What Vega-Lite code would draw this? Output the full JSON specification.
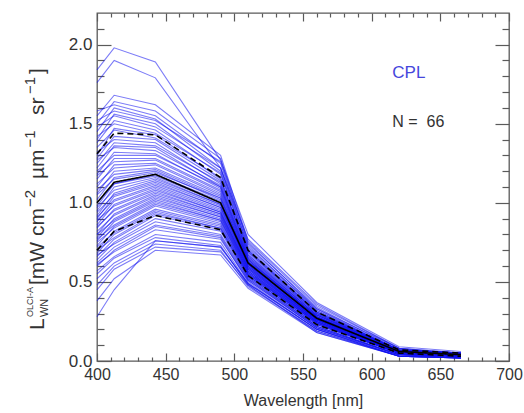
{
"$schema":"https://vega.github.io/schema/vega-lite/v6.json",
"width":412,"height":348,
"autosize":{"type":"none"},
"padding":{"left":97,"top":13,"right":15,"bottom":52},
"background":"white",
"config":{"view":{"stroke":"#5a5a5a","strokeWidth":1.3},"font":"Liberation Sans",
 "text":{"font":"Liberation Sans","color":"#333333","angle":270,"align":"left","baseline":"alphabetic","clip":false},
 "axis":{"grid":false,"domain":false,"tickColor":"#5a5a5a","tickWidth":1.2,"labelColor":"#333333","labelFont":"Liberation Sans","titleFont":"Liberation Sans","titleColor":"#333333","titleFontWeight":"normal","labelFlush":false,"labelOverlap":false}},
"resolve":{"axis":{"x":"independent","y":"independent"}},
"datasets":{
"spec":[
{"s":1,"w":400,"v":1.84},{"s":1,"w":412.5,"v":1.98},{"s":1,"w":442.5,"v":1.89},{"s":1,"w":490,"v":1.27},{"s":1,"w":510,"v":0.80},{"s":1,"w":560,"v":0.37},{"s":1,"w":620,"v":0.09},{"s":1,"w":665,"v":0.06},
{"s":2,"w":400,"v":1.76},{"s":2,"w":412.5,"v":1.90},{"s":2,"w":442.5,"v":1.79},{"s":2,"w":490,"v":1.22},{"s":2,"w":510,"v":0.77},{"s":2,"w":560,"v":0.36},{"s":2,"w":620,"v":0.08},{"s":2,"w":665,"v":0.05},
{"s":3,"w":400,"v":1.55},{"s":3,"w":412.5,"v":1.68},{"s":3,"w":442.5,"v":1.62},{"s":3,"w":490,"v":1.30},{"s":3,"w":510,"v":0.76},{"s":3,"w":560,"v":0.35},{"s":3,"w":620,"v":0.08},{"s":3,"w":665,"v":0.05},
{"s":4,"w":400,"v":1.50},{"s":4,"w":412.5,"v":1.64},{"s":4,"w":442.5,"v":1.58},{"s":4,"w":490,"v":1.28},{"s":4,"w":510,"v":0.74},{"s":4,"w":560,"v":0.34},{"s":4,"w":620,"v":0.07},{"s":4,"w":665,"v":0.05},
{"s":5,"w":400,"v":1.58},{"s":5,"w":412.5,"v":1.62},{"s":5,"w":442.5,"v":1.55},{"s":5,"w":490,"v":1.25},{"s":5,"w":510,"v":0.72},{"s":5,"w":560,"v":0.33},{"s":5,"w":620,"v":0.08},{"s":5,"w":665,"v":0.04},
{"s":6,"w":400,"v":1.45},{"s":6,"w":412.5,"v":1.60},{"s":6,"w":442.5,"v":1.53},{"s":6,"w":490,"v":1.22},{"s":6,"w":510,"v":0.73},{"s":6,"w":560,"v":0.32},{"s":6,"w":620,"v":0.07},{"s":6,"w":665,"v":0.05},
{"s":7,"w":400,"v":1.52},{"s":7,"w":412.5,"v":1.58},{"s":7,"w":442.5,"v":1.52},{"s":7,"w":490,"v":1.26},{"s":7,"w":510,"v":0.75},{"s":7,"w":560,"v":0.33},{"s":7,"w":620,"v":0.06},{"s":7,"w":665,"v":0.04},
{"s":8,"w":400,"v":1.40},{"s":8,"w":412.5,"v":1.56},{"s":8,"w":442.5,"v":1.50},{"s":8,"w":490,"v":1.20},{"s":8,"w":510,"v":0.70},{"s":8,"w":560,"v":0.31},{"s":8,"w":620,"v":0.07},{"s":8,"w":665,"v":0.04},
{"s":9,"w":400,"v":1.48},{"s":9,"w":412.5,"v":1.55},{"s":9,"w":442.5,"v":1.48},{"s":9,"w":490,"v":1.22},{"s":9,"w":510,"v":0.71},{"s":9,"w":560,"v":0.32},{"s":9,"w":620,"v":0.06},{"s":9,"w":665,"v":0.04},
{"s":10,"w":400,"v":1.38},{"s":10,"w":412.5,"v":1.52},{"s":10,"w":442.5,"v":1.46},{"s":10,"w":490,"v":1.18},{"s":10,"w":510,"v":0.69},{"s":10,"w":560,"v":0.30},{"s":10,"w":620,"v":0.07},{"s":10,"w":665,"v":0.05},
{"s":11,"w":400,"v":1.42},{"s":11,"w":412.5,"v":1.50},{"s":11,"w":442.5,"v":1.44},{"s":11,"w":490,"v":1.19},{"s":11,"w":510,"v":0.70},{"s":11,"w":560,"v":0.31},{"s":11,"w":620,"v":0.06},{"s":11,"w":665,"v":0.04},
{"s":12,"w":400,"v":1.30},{"s":12,"w":412.5,"v":1.47},{"s":12,"w":442.5,"v":1.43},{"s":12,"w":490,"v":1.15},{"s":12,"w":510,"v":0.68},{"s":12,"w":560,"v":0.30},{"s":12,"w":620,"v":0.06},{"s":12,"w":665,"v":0.04},
{"s":13,"w":400,"v":1.35},{"s":13,"w":412.5,"v":1.46},{"s":13,"w":442.5,"v":1.41},{"s":13,"w":490,"v":1.16},{"s":13,"w":510,"v":0.67},{"s":13,"w":560,"v":0.29},{"s":13,"w":620,"v":0.07},{"s":13,"w":665,"v":0.04},
{"s":14,"w":400,"v":1.28},{"s":14,"w":412.5,"v":1.42},{"s":14,"w":442.5,"v":1.40},{"s":14,"w":490,"v":1.14},{"s":14,"w":510,"v":0.69},{"s":14,"w":560,"v":0.31},{"s":14,"w":620,"v":0.07},{"s":14,"w":665,"v":0.05},
{"s":15,"w":400,"v":1.32},{"s":15,"w":412.5,"v":1.40},{"s":15,"w":442.5,"v":1.38},{"s":15,"w":490,"v":1.12},{"s":15,"w":510,"v":0.66},{"s":15,"w":560,"v":0.29},{"s":15,"w":620,"v":0.06},{"s":15,"w":665,"v":0.04},
{"s":16,"w":400,"v":1.25},{"s":16,"w":412.5,"v":1.38},{"s":16,"w":442.5,"v":1.36},{"s":16,"w":490,"v":1.13},{"s":16,"w":510,"v":0.67},{"s":16,"w":560,"v":0.30},{"s":16,"w":620,"v":0.06},{"s":16,"w":665,"v":0.04},
{"s":17,"w":400,"v":1.22},{"s":17,"w":412.5,"v":1.36},{"s":17,"w":442.5,"v":1.35},{"s":17,"w":490,"v":1.10},{"s":17,"w":510,"v":0.65},{"s":17,"w":560,"v":0.28},{"s":17,"w":620,"v":0.05},{"s":17,"w":665,"v":0.03},
{"s":18,"w":400,"v":1.27},{"s":18,"w":412.5,"v":1.35},{"s":18,"w":442.5,"v":1.33},{"s":18,"w":490,"v":1.11},{"s":18,"w":510,"v":0.66},{"s":18,"w":560,"v":0.29},{"s":18,"w":620,"v":0.06},{"s":18,"w":665,"v":0.04},
{"s":19,"w":400,"v":1.18},{"s":19,"w":412.5,"v":1.32},{"s":19,"w":442.5,"v":1.31},{"s":19,"w":490,"v":1.09},{"s":19,"w":510,"v":0.64},{"s":19,"w":560,"v":0.28},{"s":19,"w":620,"v":0.06},{"s":19,"w":665,"v":0.04},
{"s":20,"w":400,"v":1.20},{"s":20,"w":412.5,"v":1.30},{"s":20,"w":442.5,"v":1.30},{"s":20,"w":490,"v":1.10},{"s":20,"w":510,"v":0.65},{"s":20,"w":560,"v":0.29},{"s":20,"w":620,"v":0.07},{"s":20,"w":665,"v":0.05},
{"s":21,"w":400,"v":1.15},{"s":21,"w":412.5,"v":1.28},{"s":21,"w":442.5,"v":1.28},{"s":21,"w":490,"v":1.08},{"s":21,"w":510,"v":0.64},{"s":21,"w":560,"v":0.28},{"s":21,"w":620,"v":0.06},{"s":21,"w":665,"v":0.04},
{"s":22,"w":400,"v":1.17},{"s":22,"w":412.5,"v":1.26},{"s":22,"w":442.5,"v":1.27},{"s":22,"w":490,"v":1.07},{"s":22,"w":510,"v":0.63},{"s":22,"w":560,"v":0.27},{"s":22,"w":620,"v":0.05},{"s":22,"w":665,"v":0.03},
{"s":23,"w":400,"v":1.10},{"s":23,"w":412.5,"v":1.24},{"s":23,"w":442.5,"v":1.25},{"s":23,"w":490,"v":1.06},{"s":23,"w":510,"v":0.64},{"s":23,"w":560,"v":0.28},{"s":23,"w":620,"v":0.06},{"s":23,"w":665,"v":0.04},
{"s":24,"w":400,"v":1.12},{"s":24,"w":412.5,"v":1.22},{"s":24,"w":442.5,"v":1.24},{"s":24,"w":490,"v":1.05},{"s":24,"w":510,"v":0.62},{"s":24,"w":560,"v":0.27},{"s":24,"w":620,"v":0.06},{"s":24,"w":665,"v":0.04},
{"s":25,"w":400,"v":1.06},{"s":25,"w":412.5,"v":1.20},{"s":25,"w":442.5,"v":1.22},{"s":25,"w":490,"v":1.04},{"s":25,"w":510,"v":0.63},{"s":25,"w":560,"v":0.28},{"s":25,"w":620,"v":0.07},{"s":25,"w":665,"v":0.04},
{"s":26,"w":400,"v":1.08},{"s":26,"w":412.5,"v":1.18},{"s":26,"w":442.5,"v":1.21},{"s":26,"w":490,"v":1.03},{"s":26,"w":510,"v":0.61},{"s":26,"w":560,"v":0.26},{"s":26,"w":620,"v":0.05},{"s":26,"w":665,"v":0.03},
{"s":27,"w":400,"v":1.02},{"s":27,"w":412.5,"v":1.16},{"s":27,"w":442.5,"v":1.20},{"s":27,"w":490,"v":1.02},{"s":27,"w":510,"v":0.62},{"s":27,"w":560,"v":0.27},{"s":27,"w":620,"v":0.06},{"s":27,"w":665,"v":0.04},
{"s":28,"w":400,"v":1.05},{"s":28,"w":412.5,"v":1.15},{"s":28,"w":442.5,"v":1.19},{"s":28,"w":490,"v":1.03},{"s":28,"w":510,"v":0.63},{"s":28,"w":560,"v":0.28},{"s":28,"w":620,"v":0.06},{"s":28,"w":665,"v":0.04},
{"s":29,"w":400,"v":0.98},{"s":29,"w":412.5,"v":1.12},{"s":29,"w":442.5,"v":1.18},{"s":29,"w":490,"v":1.01},{"s":29,"w":510,"v":0.61},{"s":29,"w":560,"v":0.27},{"s":29,"w":620,"v":0.06},{"s":29,"w":665,"v":0.04},
{"s":30,"w":400,"v":1.00},{"s":30,"w":412.5,"v":1.12},{"s":30,"w":442.5,"v":1.17},{"s":30,"w":490,"v":1.00},{"s":30,"w":510,"v":0.60},{"s":30,"w":560,"v":0.26},{"s":30,"w":620,"v":0.05},{"s":30,"w":665,"v":0.03},
{"s":31,"w":400,"v":0.95},{"s":31,"w":412.5,"v":1.10},{"s":31,"w":442.5,"v":1.16},{"s":31,"w":490,"v":0.99},{"s":31,"w":510,"v":0.61},{"s":31,"w":560,"v":0.27},{"s":31,"w":620,"v":0.06},{"s":31,"w":665,"v":0.04},
{"s":32,"w":400,"v":0.97},{"s":32,"w":412.5,"v":1.08},{"s":32,"w":442.5,"v":1.15},{"s":32,"w":490,"v":0.99},{"s":32,"w":510,"v":0.60},{"s":32,"w":560,"v":0.26},{"s":32,"w":620,"v":0.06},{"s":32,"w":665,"v":0.04},
{"s":33,"w":400,"v":0.92},{"s":33,"w":412.5,"v":1.06},{"s":33,"w":442.5,"v":1.14},{"s":33,"w":490,"v":0.98},{"s":33,"w":510,"v":0.61},{"s":33,"w":560,"v":0.27},{"s":33,"w":620,"v":0.07},{"s":33,"w":665,"v":0.05},
{"s":34,"w":400,"v":0.94},{"s":34,"w":412.5,"v":1.05},{"s":34,"w":442.5,"v":1.13},{"s":34,"w":490,"v":0.97},{"s":34,"w":510,"v":0.59},{"s":34,"w":560,"v":0.26},{"s":34,"w":620,"v":0.05},{"s":34,"w":665,"v":0.03},
{"s":35,"w":400,"v":0.90},{"s":35,"w":412.5,"v":1.04},{"s":35,"w":442.5,"v":1.12},{"s":35,"w":490,"v":0.97},{"s":35,"w":510,"v":0.60},{"s":35,"w":560,"v":0.26},{"s":35,"w":620,"v":0.06},{"s":35,"w":665,"v":0.04},
{"s":36,"w":400,"v":0.91},{"s":36,"w":412.5,"v":1.02},{"s":36,"w":442.5,"v":1.11},{"s":36,"w":490,"v":0.96},{"s":36,"w":510,"v":0.59},{"s":36,"w":560,"v":0.25},{"s":36,"w":620,"v":0.05},{"s":36,"w":665,"v":0.03},
{"s":37,"w":400,"v":0.88},{"s":37,"w":412.5,"v":1.01},{"s":37,"w":442.5,"v":1.10},{"s":37,"w":490,"v":0.95},{"s":37,"w":510,"v":0.58},{"s":37,"w":560,"v":0.26},{"s":37,"w":620,"v":0.06},{"s":37,"w":665,"v":0.04},
{"s":38,"w":400,"v":0.86},{"s":38,"w":412.5,"v":0.99},{"s":38,"w":442.5,"v":1.09},{"s":38,"w":490,"v":0.94},{"s":38,"w":510,"v":0.59},{"s":38,"w":560,"v":0.26},{"s":38,"w":620,"v":0.06},{"s":38,"w":665,"v":0.04},
{"s":39,"w":400,"v":0.89},{"s":39,"w":412.5,"v":0.98},{"s":39,"w":442.5,"v":1.08},{"s":39,"w":490,"v":0.94},{"s":39,"w":510,"v":0.58},{"s":39,"w":560,"v":0.25},{"s":39,"w":620,"v":0.05},{"s":39,"w":665,"v":0.03},
{"s":40,"w":400,"v":0.84},{"s":40,"w":412.5,"v":0.96},{"s":40,"w":442.5,"v":1.07},{"s":40,"w":490,"v":0.93},{"s":40,"w":510,"v":0.57},{"s":40,"w":560,"v":0.25},{"s":40,"w":620,"v":0.06},{"s":40,"w":665,"v":0.04},
{"s":41,"w":400,"v":0.85},{"s":41,"w":412.5,"v":0.95},{"s":41,"w":442.5,"v":1.06},{"s":41,"w":490,"v":0.93},{"s":41,"w":510,"v":0.58},{"s":41,"w":560,"v":0.26},{"s":41,"w":620,"v":0.06},{"s":41,"w":665,"v":0.04},
{"s":42,"w":400,"v":0.80},{"s":42,"w":412.5,"v":0.93},{"s":42,"w":442.5,"v":1.05},{"s":42,"w":490,"v":0.92},{"s":42,"w":510,"v":0.57},{"s":42,"w":560,"v":0.25},{"s":42,"w":620,"v":0.05},{"s":42,"w":665,"v":0.03},
{"s":43,"w":400,"v":0.82},{"s":43,"w":412.5,"v":0.92},{"s":43,"w":442.5,"v":1.04},{"s":43,"w":490,"v":0.91},{"s":43,"w":510,"v":0.56},{"s":43,"w":560,"v":0.24},{"s":43,"w":620,"v":0.05},{"s":43,"w":665,"v":0.03},
{"s":44,"w":400,"v":0.78},{"s":44,"w":412.5,"v":0.90},{"s":44,"w":442.5,"v":1.03},{"s":44,"w":490,"v":0.91},{"s":44,"w":510,"v":0.57},{"s":44,"w":560,"v":0.25},{"s":44,"w":620,"v":0.06},{"s":44,"w":665,"v":0.04},
{"s":45,"w":400,"v":0.80},{"s":45,"w":412.5,"v":0.89},{"s":45,"w":442.5,"v":1.02},{"s":45,"w":490,"v":0.90},{"s":45,"w":510,"v":0.56},{"s":45,"w":560,"v":0.24},{"s":45,"w":620,"v":0.05},{"s":45,"w":665,"v":0.03},
{"s":46,"w":400,"v":0.76},{"s":46,"w":412.5,"v":0.88},{"s":46,"w":442.5,"v":1.01},{"s":46,"w":490,"v":0.89},{"s":46,"w":510,"v":0.55},{"s":46,"w":560,"v":0.24},{"s":46,"w":620,"v":0.05},{"s":46,"w":665,"v":0.03},
{"s":47,"w":400,"v":0.77},{"s":47,"w":412.5,"v":0.86},{"s":47,"w":442.5,"v":1.00},{"s":47,"w":490,"v":0.89},{"s":47,"w":510,"v":0.56},{"s":47,"w":560,"v":0.25},{"s":47,"w":620,"v":0.06},{"s":47,"w":665,"v":0.04},
{"s":48,"w":400,"v":0.73},{"s":48,"w":412.5,"v":0.85},{"s":48,"w":442.5,"v":0.99},{"s":48,"w":490,"v":0.88},{"s":48,"w":510,"v":0.55},{"s":48,"w":560,"v":0.24},{"s":48,"w":620,"v":0.05},{"s":48,"w":665,"v":0.03},
{"s":49,"w":400,"v":0.75},{"s":49,"w":412.5,"v":0.84},{"s":49,"w":442.5,"v":0.98},{"s":49,"w":490,"v":0.87},{"s":49,"w":510,"v":0.54},{"s":49,"w":560,"v":0.23},{"s":49,"w":620,"v":0.05},{"s":49,"w":665,"v":0.03},
{"s":50,"w":400,"v":0.70},{"s":50,"w":412.5,"v":0.82},{"s":50,"w":442.5,"v":0.96},{"s":50,"w":490,"v":0.86},{"s":50,"w":510,"v":0.55},{"s":50,"w":560,"v":0.24},{"s":50,"w":620,"v":0.05},{"s":50,"w":665,"v":0.04},
{"s":51,"w":400,"v":0.72},{"s":51,"w":412.5,"v":0.81},{"s":51,"w":442.5,"v":0.95},{"s":51,"w":490,"v":0.85},{"s":51,"w":510,"v":0.54},{"s":51,"w":560,"v":0.23},{"s":51,"w":620,"v":0.05},{"s":51,"w":665,"v":0.03},
{"s":52,"w":400,"v":0.68},{"s":52,"w":412.5,"v":0.80},{"s":52,"w":442.5,"v":0.94},{"s":52,"w":490,"v":0.84},{"s":52,"w":510,"v":0.53},{"s":52,"w":560,"v":0.22},{"s":52,"w":620,"v":0.04},{"s":52,"w":665,"v":0.03},
{"s":53,"w":400,"v":0.70},{"s":53,"w":412.5,"v":0.78},{"s":53,"w":442.5,"v":0.93},{"s":53,"w":490,"v":0.84},{"s":53,"w":510,"v":0.54},{"s":53,"w":560,"v":0.23},{"s":53,"w":620,"v":0.05},{"s":53,"w":665,"v":0.03},
{"s":54,"w":400,"v":0.66},{"s":54,"w":412.5,"v":0.77},{"s":54,"w":442.5,"v":0.92},{"s":54,"w":490,"v":0.83},{"s":54,"w":510,"v":0.53},{"s":54,"w":560,"v":0.22},{"s":54,"w":620,"v":0.04},{"s":54,"w":665,"v":0.03},
{"s":55,"w":400,"v":0.64},{"s":55,"w":412.5,"v":0.75},{"s":55,"w":442.5,"v":0.90},{"s":55,"w":490,"v":0.82},{"s":55,"w":510,"v":0.52},{"s":55,"w":560,"v":0.22},{"s":55,"w":620,"v":0.04},{"s":55,"w":665,"v":0.03},
{"s":56,"w":400,"v":0.67},{"s":56,"w":412.5,"v":0.74},{"s":56,"w":442.5,"v":0.88},{"s":56,"w":490,"v":0.80},{"s":56,"w":510,"v":0.52},{"s":56,"w":560,"v":0.21},{"s":56,"w":620,"v":0.04},{"s":56,"w":665,"v":0.03},
{"s":57,"w":400,"v":0.62},{"s":57,"w":412.5,"v":0.72},{"s":57,"w":442.5,"v":0.86},{"s":57,"w":490,"v":0.79},{"s":57,"w":510,"v":0.51},{"s":57,"w":560,"v":0.21},{"s":57,"w":620,"v":0.04},{"s":57,"w":665,"v":0.02},
{"s":58,"w":400,"v":0.60},{"s":58,"w":412.5,"v":0.70},{"s":58,"w":442.5,"v":0.85},{"s":58,"w":490,"v":0.78},{"s":58,"w":510,"v":0.50},{"s":58,"w":560,"v":0.20},{"s":58,"w":620,"v":0.03},{"s":58,"w":665,"v":0.02},
{"s":59,"w":400,"v":0.61},{"s":59,"w":412.5,"v":0.69},{"s":59,"w":442.5,"v":0.83},{"s":59,"w":490,"v":0.77},{"s":59,"w":510,"v":0.51},{"s":59,"w":560,"v":0.21},{"s":59,"w":620,"v":0.04},{"s":59,"w":665,"v":0.03},
{"s":60,"w":400,"v":0.57},{"s":60,"w":412.5,"v":0.66},{"s":60,"w":442.5,"v":0.80},{"s":60,"w":490,"v":0.75},{"s":60,"w":510,"v":0.49},{"s":60,"w":560,"v":0.20},{"s":60,"w":620,"v":0.03},{"s":60,"w":665,"v":0.02},
{"s":61,"w":400,"v":0.55},{"s":61,"w":412.5,"v":0.65},{"s":61,"w":442.5,"v":0.78},{"s":61,"w":490,"v":0.73},{"s":61,"w":510,"v":0.48},{"s":61,"w":560,"v":0.19},{"s":61,"w":620,"v":0.03},{"s":61,"w":665,"v":0.02},
{"s":62,"w":400,"v":0.52},{"s":62,"w":412.5,"v":0.62},{"s":62,"w":442.5,"v":0.76},{"s":62,"w":490,"v":0.72},{"s":62,"w":510,"v":0.49},{"s":62,"w":560,"v":0.20},{"s":62,"w":620,"v":0.04},{"s":62,"w":665,"v":0.02},
{"s":63,"w":400,"v":0.48},{"s":63,"w":412.5,"v":0.60},{"s":63,"w":442.5,"v":0.74},{"s":63,"w":490,"v":0.70},{"s":63,"w":510,"v":0.47},{"s":63,"w":560,"v":0.19},{"s":63,"w":620,"v":0.03},{"s":63,"w":665,"v":0.02},
{"s":64,"w":400,"v":0.45},{"s":64,"w":412.5,"v":0.58},{"s":64,"w":442.5,"v":0.72},{"s":64,"w":490,"v":0.69},{"s":64,"w":510,"v":0.48},{"s":64,"w":560,"v":0.18},{"s":64,"w":620,"v":0.03},{"s":64,"w":665,"v":0.02},
{"s":65,"w":400,"v":0.38},{"s":65,"w":412.5,"v":0.52},{"s":65,"w":442.5,"v":0.70},{"s":65,"w":490,"v":0.67},{"s":65,"w":510,"v":0.46},{"s":65,"w":560,"v":0.18},{"s":65,"w":620,"v":0.03},{"s":65,"w":665,"v":0.02},
{"s":66,"w":400,"v":0.28},{"s":66,"w":412.5,"v":0.45},{"s":66,"w":442.5,"v":0.76},{"s":66,"w":490,"v":0.72},{"s":66,"w":510,"v":0.49},{"s":66,"w":560,"v":0.20},{"s":66,"w":620,"v":0.03},{"s":66,"w":665,"v":0.02}
],
"stats":[
{"k":"mean","w":400,"v":1.00},{"k":"mean","w":412.5,"v":1.13},{"k":"mean","w":442.5,"v":1.18},{"k":"mean","w":490,"v":1.00},{"k":"mean","w":510,"v":0.62},{"k":"mean","w":560,"v":0.27},{"k":"mean","w":620,"v":0.06},{"k":"mean","w":665,"v":0.04},
{"k":"upper","w":400,"v":1.31},{"k":"upper","w":412.5,"v":1.44},{"k":"upper","w":442.5,"v":1.43},{"k":"upper","w":490,"v":1.16},{"k":"upper","w":510,"v":0.70},{"k":"upper","w":560,"v":0.31},{"k":"upper","w":620,"v":0.07},{"k":"upper","w":665,"v":0.05},
{"k":"lower","w":400,"v":0.70},{"k":"lower","w":412.5,"v":0.82},{"k":"lower","w":442.5,"v":0.92},{"k":"lower","w":490,"v":0.83},{"k":"lower","w":510,"v":0.54},{"k":"lower","w":560,"v":0.23},{"k":"lower","w":620,"v":0.05},{"k":"lower","w":665,"v":0.03}
]},
"layer":[
{"data":{"name":"spec"},
 "mark":{"type":"line","stroke":"#1010f0","strokeOpacity":0.55,"strokeWidth":1.1},
 "encoding":{
  "x":{"field":"w","type":"quantitative","scale":{"domain":[400,700],"nice":false,"zero":false},
   "axis":{"orient":"bottom","values":[400,450,500,550,600,650,700],"tickSize":-8,"labelPadding":13,"labelFontSize":16,"title":"Wavelength [nm]","titleFontSize":16,"titlePadding":10}},
  "y":{"field":"v","type":"quantitative","scale":{"domain":[0,2.2],"nice":false,"zero":false},
   "axis":{"orient":"left","values":[0,0.5,1,1.5,2],"format":".1f","tickSize":-14,"labelPadding":19,"labelFontSize":17,"title":null}},
  "detail":{"field":"s","type":"nominal"}}},
{"data":{"name":"stats"},
 "mark":{"type":"line","color":"black","strokeWidth":1.6},
 "encoding":{
  "x":{"field":"w","type":"quantitative","axis":{"orient":"bottom","values":[410,420,430,440,460,470,480,490,510,520,530,540,560,570,580,590,610,620,630,640,660,670,680,690],"tickSize":-4,"labels":false,"title":null}},
  "y":{"field":"v","type":"quantitative","axis":{"orient":"left","values":[0.1,0.2,0.3,0.4,0.6,0.7,0.8,0.9,1.1,1.2,1.3,1.4,1.6,1.7,1.8,1.9,2.1],"tickSize":-7,"labels":false,"title":null}},
  "strokeDash":{"field":"k","type":"nominal","scale":{"domain":["mean","upper","lower"],"range":[[1,0],[6,4],[6,4]]},"legend":null},
  "detail":{"field":"k","type":"nominal"}}},
{"data":{"values":[{"t":"CPL"}]},
 "mark":{"type":"text","angle":0,"baseline":"middle","fontSize":17,"color":"#4646dc"},
 "encoding":{"text":{"field":"t"},
  "x":{"datum":615,"type":"quantitative","axis":{"orient":"top","values":[400,450,500,550,600,650,700],"tickSize":-8,"labels":false,"title":null}},
  "y":{"datum":1.82,"type":"quantitative","axis":{"orient":"right","values":[0,0.5,1,1.5,2],"tickSize":-14,"labels":false,"title":null}}}},
{"data":{"values":[{"t":"N =\u00a0 66"}]},
 "mark":{"type":"text","angle":0,"baseline":"middle","fontSize":16,"color":"#333333"},
 "encoding":{"text":{"field":"t"},
  "x":{"datum":615,"type":"quantitative","axis":{"orient":"top","values":[410,420,430,440,460,470,480,490,510,520,530,540,560,570,580,590,610,620,630,640,660,670,680,690],"tickSize":-4,"labels":false,"title":null}},
  "y":{"datum":1.51,"type":"quantitative","axis":{"orient":"right","values":[0.1,0.2,0.3,0.4,0.6,0.7,0.8,0.9,1.1,1.2,1.3,1.4,1.6,1.7,1.8,1.9,2.1],"tickSize":-7,"labels":false,"title":null}}}},
{"data":{"values":[{"t":"L"}]},"mark":{"type":"text","fontSize":21},
 "encoding":{"text":{"field":"t"},"x":{"datum":361.4,"type":"quantitative","axis":null},"y":{"datum":0.196,"type":"quantitative","axis":null}}},
{"data":{"values":[{"t":"WN"}]},"mark":{"type":"text","fontSize":11},
 "encoding":{"text":{"field":"t"},"x":{"datum":364.3,"type":"quantitative","axis":null},"y":{"datum":0.278,"type":"quantitative","axis":null}}},
{"data":{"values":[{"t":"OLCI-A"}]},"mark":{"type":"text","fontSize":9},
 "encoding":{"text":{"field":"t"},"x":{"datum":353.4,"type":"quantitative","axis":null},"y":{"datum":0.278,"type":"quantitative","axis":null}}},
{"data":{"values":[{"t":"[mW cm"}]},"mark":{"type":"text","fontSize":21},
 "encoding":{"text":{"field":"t"},"x":{"datum":361.4,"type":"quantitative","axis":null},"y":{"datum":0.48,"type":"quantitative","axis":null}}},
{"data":{"values":[{"t":"−2"}]},"mark":{"type":"text","fontSize":15},
 "encoding":{"text":{"field":"t"},"x":{"datum":354.85,"type":"quantitative","axis":null},"y":{"datum":0.974,"type":"quantitative","axis":null}}},
{"data":{"values":[{"t":"µm"}]},"mark":{"type":"text","fontSize":21},
 "encoding":{"text":{"field":"t"},"x":{"datum":361.4,"type":"quantitative","axis":null},"y":{"datum":1.15,"type":"quantitative","axis":null}}},
{"data":{"values":[{"t":"−1"}]},"mark":{"type":"text","fontSize":15},
 "encoding":{"text":{"field":"t"},"x":{"datum":354.85,"type":"quantitative","axis":null},"y":{"datum":1.35,"type":"quantitative","axis":null}}},
{"data":{"values":[{"t":"sr"}]},"mark":{"type":"text","fontSize":21},
 "encoding":{"text":{"field":"t"},"x":{"datum":361.4,"type":"quantitative","axis":null},"y":{"datum":1.555,"type":"quantitative","axis":null}}},
{"data":{"values":[{"t":"−1"}]},"mark":{"type":"text","fontSize":15},
 "encoding":{"text":{"field":"t"},"x":{"datum":354.85,"type":"quantitative","axis":null},"y":{"datum":1.688,"type":"quantitative","axis":null}}},
{"data":{"values":[{"t":"]"}]},"mark":{"type":"text","fontSize":21},
 "encoding":{"text":{"field":"t"},"x":{"datum":361.4,"type":"quantitative","axis":null},"y":{"datum":1.814,"type":"quantitative","axis":null}}}
]
}
